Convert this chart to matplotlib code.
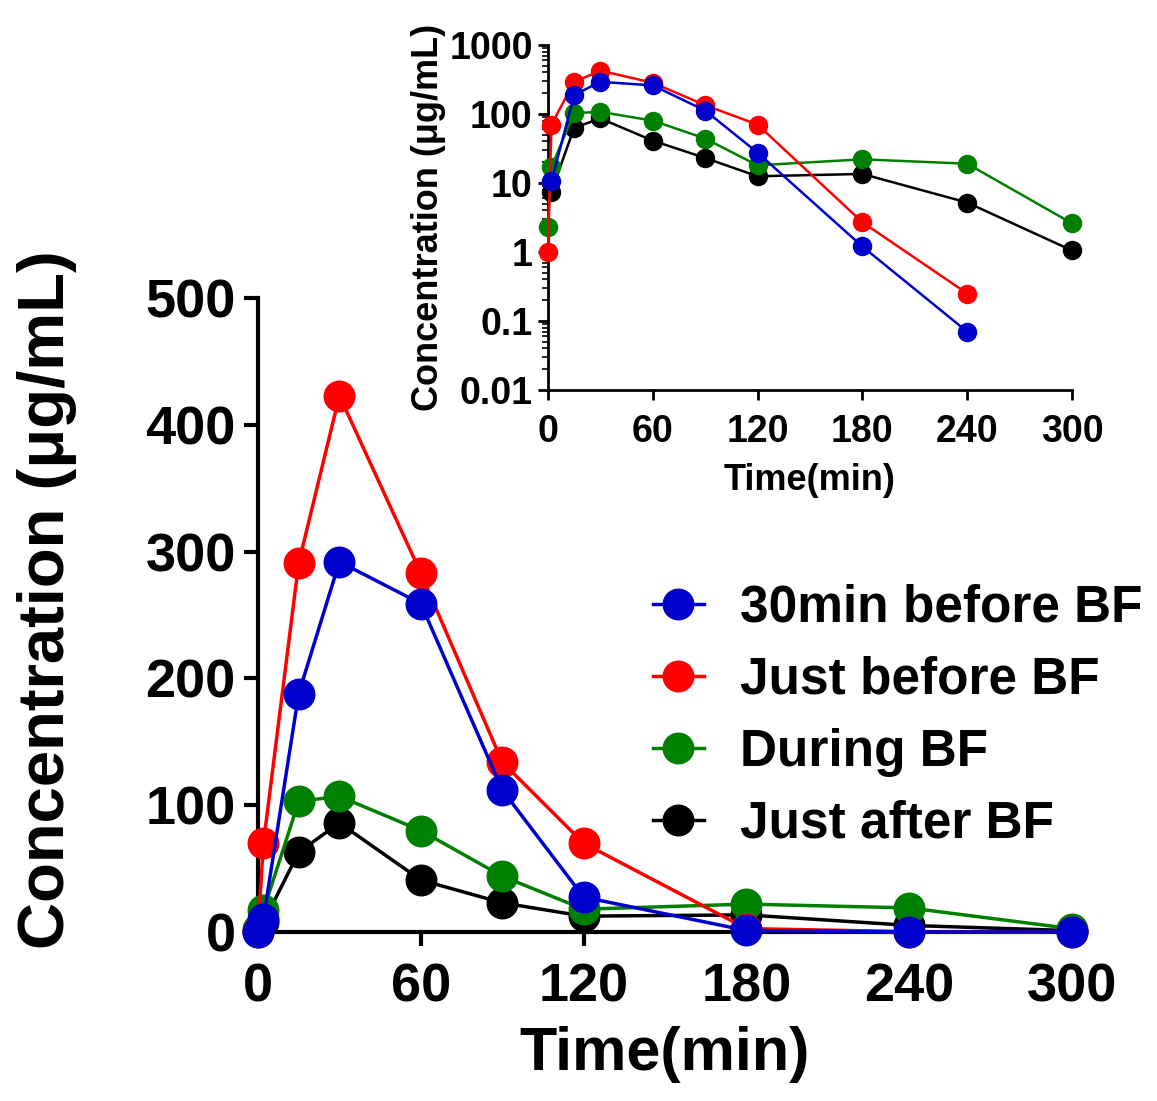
import numpy as np
import matplotlib.pyplot as plt

plt.rcParams['font.family'] = ['Liberation Sans', 'DejaVu Sans']
plt.rcParams['font.weight'] = 'bold'

# sampling times (min)
time = [0, 2, 15, 30, 60, 90, 120, 180, 240, 300]

labels = ['30min before BF', 'Just before BF', 'During BF', 'Just after BF']
colors = ['#0000CC', '#FF0000', '#008000', '#000000']

# concentrations (ug/mL)
c_30min = [0, 10.5, 188, 292, 259, 112, 27.5, 1.2, 0.07, 0]
c_just_before = [1, 70, 291, 423, 283, 134, 70, 2.7, 0.25, 0]
c_during = [2.3, 17, 103, 107, 80, 44, 18, 22, 19, 2.6]
c_just_after = [0, 7.5, 63, 86, 41, 23, 12.5, 13.5, 5.2, 1.05]

series = [c_30min, c_just_before, c_during, c_just_after]

fig = plt.figure(figsize=(11.57, 11.01), dpi=100)

##主图
ax = fig.add_axes([0.223, 0.1535, 0.7036, 0.5758])
lines = []
for i in [3, 2, 1, 0]:
    ln, = ax.plot(time, series[i], color=colors[i], lw=2.5, marker='o',
                  ms=22, clip_on=False, label=labels[i], zorder=3 + (3 - i))
    lines.append(ln)
ax.set_xlim(0, 300)
ax.set_ylim(0, 500)
ax.set_xticks([0, 60, 120, 180, 240, 300])
ax.set_yticks([0, 100, 200, 300, 400, 500])
ax.tick_params(labelsize=39, width=3, length=10)
ax.tick_params(axis='x', pad=12)
ax.tick_params(axis='y', pad=6)
for s in ['top', 'right']:
    ax.spines[s].set_visible(False)
for s in ['left', 'bottom']:
    ax.spines[s].set_linewidth(3)
ax.set_xlabel('Time(min)', fontsize=44, fontweight='bold', labelpad=10)
ax.set_ylabel('Concentration (μg/mL)', fontsize=47, fontweight='bold')
ax.yaxis.set_label_coords(-0.222, 0.525)

handles = lines[::-1]
fig.legend(handles, labels, loc='upper left', bbox_to_anchor=(0.524, 0.512),
           frameon=False, fontsize=37, numpoints=1, handlelength=1.0,
           handletextpad=0.7, labelspacing=0.45, markerscale=1.0)

##插图 (log)
ax2 = fig.add_axes([0.4736, 0.6458, 0.4529, 0.3134])
for i in [3, 2, 1, 0]:
    y = np.array(series[i], dtype=float)
    y = np.where(y > 0, y, np.nan)
    ax2.plot(time, y, color=colors[i], lw=1.8, marker='o', ms=13,
             clip_on=False, zorder=3 + (3 - i))
ax2.set_yscale('log')
ax2.set_xlim(0, 300)
ax2.set_ylim(0.01, 1000)
ax2.set_xticks([0, 60, 120, 180, 240, 300])
ax2.set_yticks([0.01, 0.1, 1, 10, 100, 1000])
ax2.set_yticklabels(['0.01', '0.1', '1', '10', '100', '1000'])
ax2.tick_params(labelsize=27, width=2, length=7)
ax2.tick_params(axis='x', pad=10)
ax2.tick_params(axis='y', pad=4)
ax2.tick_params(which='minor', width=1.2, length=4)
for s in ['top', 'right']:
    ax2.spines[s].set_visible(False)
for s in ['left', 'bottom']:
    ax2.spines[s].set_linewidth(2)
ax2.set_xlabel('Time(min)', fontsize=26, fontweight='bold', labelpad=10)
ax2.set_ylabel('Concentration (μg/mL)', fontsize=26, fontweight='bold', labelpad=2)

fig.savefig('out.png', dpi=100)
